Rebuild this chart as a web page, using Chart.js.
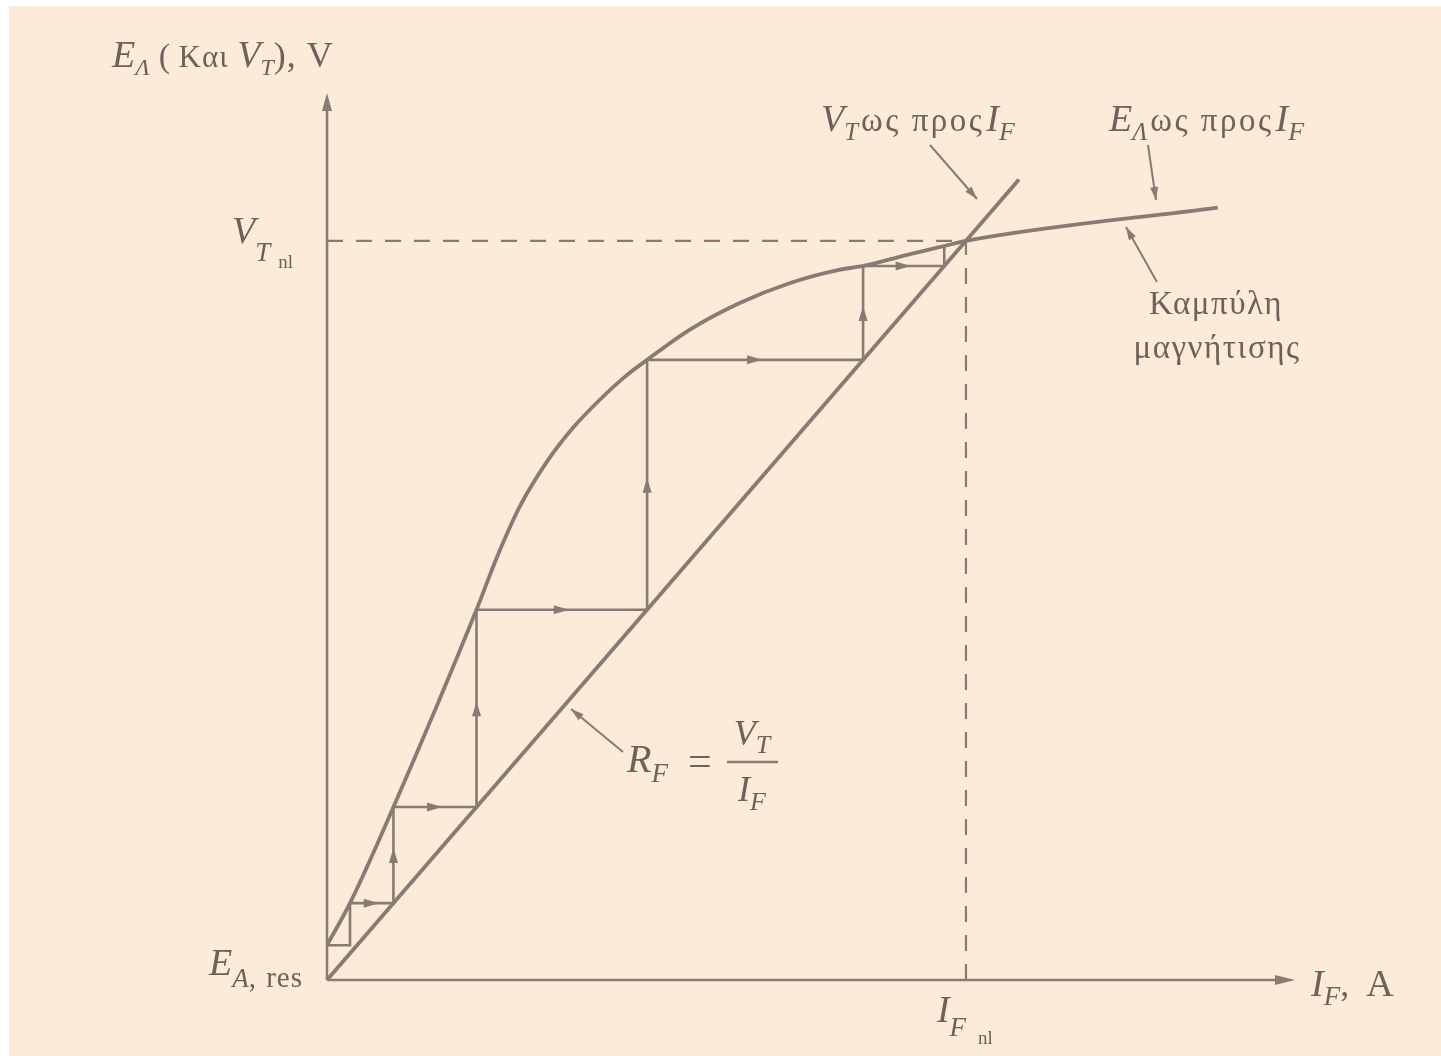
<!DOCTYPE html>
<html>
<head>
<meta charset="utf-8">
<script src="https://cdn.jsdelivr.net/npm/chart.js@4.4.1/dist/chart.umd.min.js"></script>
<style>
    html, body { margin: 0; padding: 0; background: #ffffff; overflow: hidden; }
    canvas { display: block; }
</style>
</head>
<body>
<canvas id="chart" width="1441" height="1056"></canvas>
<script>
// magnetization curve, per unit of I_F,nl (x) and V_T,nl (y)
const curve_current = [0, 0.036, 0.104, 0.234, 0.266, 0.302, 0.344, 0.385, 0.427, 0.466, 0.501, 0.568, 0.646, 0.725, 0.803, 0.839, 0.908, 0.966, 1.0, 1.394]
const curve_voltage = [0.047, 0.104, 0.234, 0.501, 0.572, 0.641, 0.701, 0.747, 0.785, 0.816, 0.839, 0.880, 0.916, 0.943, 0.961, 0.966, 0.981, 0.993, 1.0, 1.045]

// field resistance line V_T = R_F * I_F
const rf_current = [0, 1.083]
const rf_voltage = [0, 1.083]

// build-up staircase: riser currents and the voltage levels (first level is E_A,res)
const step_current = [0.036, 0.104, 0.234, 0.501, 0.839, 0.966]
const step_voltage = [0.047, 0.104, 0.234, 0.501, 0.839, 0.966, 0.993]

// no-load operating point
const i_f_nl = 1.0
const v_t_nl = 1.0

const x_end = 1.515
const y_end = 1.2

const line_color = '#867c74'
const text_color = '#6b635b'
const serif = '"Liberation Serif", "DejaVu Serif", serif'

function to_points(xs, ys) {
    let points = []
    for (let i = 0; i < xs.length; i ++) {
        points.push({x: xs[i], y: ys[i]})
    }
    return points
}

function staircase_points(currents, voltages) {
    let points = [{x: 0, y: voltages[0]}]
    for (let i = 0; i < currents.length; i ++) {
        points.push({x: currents[i], y: voltages[i]})
        points.push({x: currents[i], y: voltages[i + 1]})
    }
    return points
}

function arrow_head(ctx, x1, y1, x2, y2, len, half) {
    let a = Math.atan2(y2 - y1, x2 - x1)
    ctx.beginPath()
    ctx.moveTo(x2, y2)
    ctx.lineTo(x2 - len * Math.cos(a) + half * Math.sin(a), y2 - len * Math.sin(a) - half * Math.cos(a))
    ctx.lineTo(x2 - len * Math.cos(a) - half * Math.sin(a), y2 - len * Math.sin(a) + half * Math.cos(a))
    ctx.closePath()
    ctx.fill()
}

function pointer(ctx, x1, y1, x2, y2) {
    ctx.beginPath()
    ctx.moveTo(x1, y1)
    ctx.lineTo(x2, y2)
    ctx.stroke()
    arrow_head(ctx, x1, y1, x2, y2, 13, 4)
}

function set_font(ctx, p) {
    ctx.font = (p.italic ? 'italic ' : '') + p.size + 'px ' + serif
    ctx.letterSpacing = (p.spacing || 0) + 'px'
}

// draws a run of text pieces left to right; each piece may be italic, smaller or shifted down
function draw_rich(ctx, x, y, parts) {
    for (let p of parts) {
        set_font(ctx, p)
        ctx.fillText(p.text, x, y + (p.dy || 0))
        x += ctx.measureText(p.text).width + (p.gap || 0)
    }
    ctx.letterSpacing = '0px'
    return x
}

function rich_width(ctx, parts) {
    let w = 0
    for (let p of parts) {
        set_font(ctx, p)
        w += ctx.measureText(p.text).width + (p.gap || 0)
    }
    ctx.letterSpacing = '0px'
    return w
}

const paper_plugin = {
    id: 'paper',
    beforeDraw(chart) {
        let ctx = chart.ctx
        ctx.save()
        ctx.fillStyle = '#ffffff'
        ctx.fillRect(0, 0, chart.width, chart.height)
        ctx.fillStyle = '#fcebd9'
        ctx.fillRect(9, 6, chart.width - 9, chart.height - 6)
        ctx.restore()
    }
}

const marks_plugin = {
    id: 'marks',
    afterDatasetsDraw(chart) {
        let ctx = chart.ctx
        let sx = chart.scales.x
        let sy = chart.scales.y
        let px = v => sx.getPixelForValue(v)
        let py = v => sy.getPixelForValue(v)

        ctx.save()
        ctx.fillStyle = line_color
        ctx.strokeStyle = line_color
        ctx.lineWidth = 2

        // axis arrow heads
        arrow_head(ctx, px(0), py(0), px(x_end), py(0), 20, 5)
        arrow_head(ctx, px(0), py(0), px(0), py(y_end), 18, 5)

        // direction arrows along the staircase (horizontal runs, then risers)
        for (let i = 1; i < step_current.length; i ++) {
            let y = py(step_voltage[i])
            let xm = (px(step_current[i - 1]) + px(step_current[i])) / 2 + 7
            arrow_head(ctx, xm - 10, y, xm, y, 15, 4.5)
        }
        for (let i = 1; i < step_current.length - 1; i ++) {
            let x = px(step_current[i])
            let ym = (py(step_voltage[i]) + py(step_voltage[i + 1])) / 2 - 7
            arrow_head(ctx, x, ym + 10, x, ym, 15, 4.5)
        }

        // label pointers
        ctx.lineWidth = 2
        pointer(ctx, 930, 145, 977, 199)
        pointer(ctx, 1148, 145, 1156, 200)
        pointer(ctx, 1157, 282, 1126, 227)
        pointer(ctx, 623, 752, 571, 709)

        // texts
        ctx.fillStyle = text_color
        ctx.textBaseline = 'alphabetic'
        ctx.textAlign = 'left'

        draw_rich(ctx, 112, 67, [
            {text: 'E', italic: true, size: 38},
            {text: 'Λ', italic: true, size: 24, dy: 8, gap: 9},
            {text: '( ', size: 34},
            {text: 'Kαι ', size: 31, spacing: 1},
            {text: 'V', italic: true, size: 38},
            {text: 'T', italic: true, size: 24, dy: 8},
            {text: '), V', size: 36, spacing: 1}
        ])

        draw_rich(ctx, 232, py(v_t_nl) + 2, [
            {text: 'V', italic: true, size: 38},
            {text: 'T', italic: true, size: 27, dy: 18, gap: 8},
            {text: 'nl', size: 19, dy: 25}
        ])

        draw_rich(ctx, 209, py(0) - 5, [
            {text: 'E', italic: true, size: 38},
            {text: 'A', italic: true, size: 27, dy: 12},
            {text: ', ', size: 29, dy: 12, gap: 3},
            {text: 'res', size: 29, dy: 12, spacing: 1}
        ])

        draw_rich(ctx, px(i_f_nl) - 29, 1022, [
            {text: 'I', italic: true, size: 38},
            {text: 'F', italic: true, size: 27, dy: 14, gap: 12},
            {text: 'nl', size: 19, dy: 22}
        ])

        draw_rich(ctx, 1311, 996, [
            {text: 'I', italic: true, size: 38},
            {text: 'F', italic: true, size: 27, dy: 9},
            {text: ',', size: 36, gap: 17},
            {text: 'A', size: 38}
        ])

        let ws_part = [
            {text: 'ως προς', size: 33, spacing: 2.5, gap: 2},
            {text: 'I', italic: true, size: 38},
            {text: 'F', italic: true, size: 26, dy: 9}
        ]
        draw_rich(ctx, 821, 131, [
            {text: 'V', italic: true, size: 38},
            {text: 'T', italic: true, size: 25, dy: 9, gap: 3}
        ].concat(ws_part))

        draw_rich(ctx, 1109, 131, [
            {text: 'E', italic: true, size: 38},
            {text: 'Λ', italic: true, size: 25, dy: 9, gap: 3}
        ].concat(ws_part))

        ctx.textAlign = 'center'
        ctx.font = '33px ' + serif
        ctx.letterSpacing = '1.5px'
        ctx.fillText('Καμπύλη', 1216, 314)
        ctx.fillText('μαγνήτισης', 1217, 358)
        ctx.letterSpacing = '0px'
        ctx.textAlign = 'left'

        draw_rich(ctx, 627, 772, [
            {text: 'R', italic: true, size: 40},
            {text: 'F', italic: true, size: 27, dy: 10}
        ])
        draw_rich(ctx, 688, 775, [{text: '=', size: 42}])
        ctx.lineWidth = 2.5
        ctx.beginPath()
        ctx.moveTo(727, 762)
        ctx.lineTo(778, 762)
        ctx.stroke()
        let top = [{text: 'V', italic: true, size: 36}, {text: 'T', italic: true, size: 26, dy: 8}]
        let bottom = [{text: 'I', italic: true, size: 36}, {text: 'F', italic: true, size: 26, dy: 9}]
        draw_rich(ctx, 752 - rich_width(ctx, top) / 2, 745, top)
        draw_rich(ctx, 752 - rich_width(ctx, bottom) / 2, 801, bottom)

        ctx.restore()
    }
}

function line_set(points, width, extra) {
    return Object.assign({
        data: points,
        showLine: true,
        borderColor: line_color,
        borderWidth: width,
        pointRadius: 0,
        fill: false,
        clip: false
    }, extra || {})
}

let ctx = document.getElementById('chart').getContext('2d')
let graph = new Chart(ctx, {
    type: 'scatter',
    data: {
        datasets: [
            line_set([{x: 0, y: 0}, {x: x_end - 0.02, y: 0}], 2.6),
            line_set([{x: 0, y: 0}, {x: 0, y: y_end - 0.02}], 2.6),
            line_set([{x: 0, y: v_t_nl}, {x: i_f_nl, y: v_t_nl}], 2.2, {borderDash: [16, 13]}),
            line_set([{x: i_f_nl, y: 0}, {x: i_f_nl, y: v_t_nl}], 2.2, {borderDash: [16, 13]}),
            line_set(staircase_points(step_current, step_voltage), 2.6),
            line_set(to_points(rf_current, rf_voltage), 3.8),
            line_set(to_points(curve_current, curve_voltage), 3.8, {cubicInterpolationMode: 'monotone'})
        ]
    },
    options: {
        responsive: false,
        animation: false,
        events: [],
        layout: {padding: {left: 327, right: 146, top: 93, bottom: 76}},
        plugins: {
            legend: {display: false},
            tooltip: {enabled: false}
        },
        scales: {
            x: {type: 'linear', min: 0, max: x_end, display: false},
            y: {type: 'linear', min: 0, max: y_end, display: false}
        }
    },
    plugins: [paper_plugin, marks_plugin]
})
</script>
</body>
</html>
